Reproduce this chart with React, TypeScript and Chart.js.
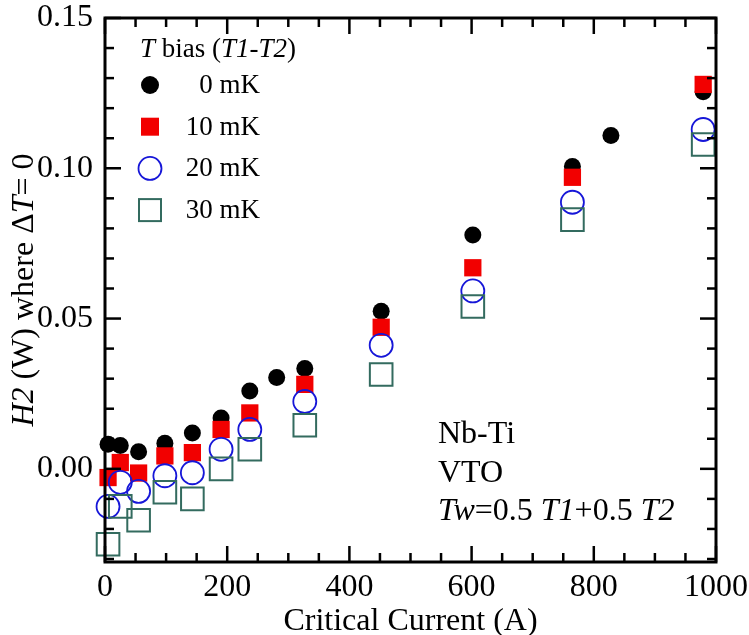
import { useEffect, useRef } from "react";
import { Chart, registerables } from "chart.js";

Chart.register(...registerables);

// Critical current (A) at which each bias was measured
const currents0 = [5, 25, 55, 98, 143, 190, 237, 281, 327, 452, 602, 765, 828, 979];
const currents = [5, 25, 55, 98, 143, 190, 237, 327, 452, 602, 765, 979];

// H2 (W) where ΔT = 0
const bias0mK = [0.0082, 0.0078, 0.0057, 0.0085, 0.0119, 0.0169, 0.0259, 0.0304, 0.0334, 0.0524, 0.0778, 0.1006, 0.1109, 0.1255];
const bias10mK = [-0.0029, 0.0021, -0.0014, 0.0043, 0.0054, 0.0131, 0.0186, 0.0281, 0.0471, 0.0669, 0.097, 0.1279];
const bias20mK = [-0.0125, -0.0045, -0.0075, -0.0023, -0.0013, 0.0065, 0.0131, 0.0224, 0.0411, 0.0592, 0.0887, 0.1129];
const bias30mK = [-0.0251, -0.0125, -0.0171, -0.0078, -0.01, 0.0, 0.0065, 0.0145, 0.0314, 0.054, 0.0829, 0.1079];

const xTickValues = [0, 200, 400, 600, 800, 1000];
const yTickValues = [0, 0.05, 0.1, 0.15];
const legendLabels = ["0 mK", "10 mK", "20 mK", "30 mK"];
const noteLines = ["Nb-Ti", "VTO"];

const SERIF = "'Liberation Serif', 'Times New Roman', serif";
const RED = "#f20000";
const BLUE = "#1616d8";
const GREEN = "#336b5f";

type Seg = { t: string; it?: boolean };

function drawSegs(ctx: CanvasRenderingContext2D, segs: Seg[], x: number, y: number, size: number, align: "left" | "center") {
  const fontOf = (s: Seg) => `${s.it ? "italic " : ""}${size}px ${SERIF}`;
  let total = 0;
  for (const s of segs) {
    ctx.font = fontOf(s);
    total += ctx.measureText(s.t).width;
  }
  let cx = align === "center" ? x - total / 2 : x;
  ctx.textAlign = "left";
  for (const s of segs) {
    ctx.font = fontOf(s);
    ctx.fillText(s.t, cx, y);
    cx += ctx.measureText(s.t).width;
  }
}

function marker(ctx: CanvasRenderingContext2D, kind: number, x: number, y: number) {
  ctx.save();
  if (kind === 0) {
    ctx.fillStyle = "#000";
    ctx.beginPath();
    ctx.arc(x, y, 9, 0, Math.PI * 2);
    ctx.fill();
  } else if (kind === 1) {
    ctx.fillStyle = RED;
    ctx.fillRect(x - 9, y - 9, 18, 18);
  } else if (kind === 2) {
    ctx.strokeStyle = BLUE;
    ctx.lineWidth = 1.8;
    ctx.beginPath();
    ctx.arc(x, y, 11.5, 0, Math.PI * 2);
    ctx.stroke();
  } else {
    ctx.strokeStyle = GREEN;
    ctx.lineWidth = 2;
    ctx.strokeRect(x - 11, y - 11, 22, 22);
  }
  ctx.restore();
}

const decor = {
  id: "decor",
  afterDatasetsDraw(chart: any) {
    const { ctx, chartArea: a, scales } = chart;
    const xs = scales.x;
    const ys = scales.y;
    ctx.save();
    ctx.strokeStyle = "#000";
    ctx.lineWidth = 2.5;
    const seg = (x1: number, y1: number, x2: number, y2: number) => {
      ctx.beginPath();
      ctx.moveTo(x1, y1);
      ctx.lineTo(x2, y2);
      ctx.stroke();
    };
    for (let v = 0; v <= 1000; v += 50) {
      const px = xs.getPixelForValue(v);
      const len = v % 200 === 0 ? 16 : 9;
      seg(px, a.bottom, px, a.bottom - len);
      seg(px, a.top, px, a.top + len);
    }
    for (let i = -3; i <= 15; i++) {
      const py = ys.getPixelForValue(i / 100);
      const len = i % 5 === 0 ? 16 : 9;
      seg(a.left, py, a.left + len, py);
      seg(a.right, py, a.right - len, py);
    }
    ctx.lineWidth = 3;
    ctx.strokeRect(a.left, a.top, a.right - a.left, a.bottom - a.top);

    ctx.fillStyle = "#000";
    ctx.textBaseline = "alphabetic";
    // x title
    drawSegs(ctx, [{ t: "Critical Current (A)" }], (a.left + a.right) / 2, 630, 32, "center");
    // y title
    ctx.save();
    ctx.translate(33, (a.top + a.bottom) / 2);
    ctx.rotate(-Math.PI / 2);
    drawSegs(ctx, [{ t: "H2", it: true }, { t: " (W) where \u0394" }, { t: "T", it: true }, { t: "= 0" }], 0, 0, 32, "center");
    ctx.restore();

    // legend
    ctx.textBaseline = "middle";
    drawSegs(ctx, [{ t: "T", it: true }, { t: " bias (" }, { t: "T1", it: true }, { t: "-" }, { t: "T2", it: true }, { t: ")" }], 140, 50, 27, "left");
    legendLabels.forEach((lab, i) => {
      const yy = 85 + i * 41.7;
      marker(ctx, i, 150, yy);
      ctx.font = `27px ${SERIF}`;
      ctx.textAlign = "right";
      ctx.fillText(lab, 260, yy + 1);
    });

    // annotation
    ctx.textBaseline = "alphabetic";
    noteLines.forEach((t, i) => drawSegs(ctx, [{ t }], 438, 443 + i * 38.5, 32, "left"));
    drawSegs(ctx, [{ t: "Tw", it: true }, { t: "=0.5 " }, { t: "T1", it: true }, { t: "+0.5 " }, { t: "T2", it: true }], 438, 520, 32, "left");
    ctx.restore();
  },
};

export default function App() {
  const ref = useRef<HTMLCanvasElement | null>(null);
  useEffect(() => {
    if (!ref.current) return;
    const pts = (xs: number[], ys: number[]) => xs.map((x, i) => ({ x, y: ys[i] }));
    const chart = new Chart(ref.current, {
      type: "scatter",
      data: {
        datasets: [
          { label: "0 mK", data: pts(currents0, bias0mK), pointStyle: "circle", pointRadius: 8.5, backgroundColor: "#000", borderColor: "#000", borderWidth: 0, order: 4, clip: false },
          { label: "10 mK", data: pts(currents, bias10mK), pointStyle: "rect", pointRadius: 12.2, backgroundColor: RED, borderColor: RED, borderWidth: 0, order: 3, clip: false },
          { label: "20 mK", data: pts(currents, bias20mK), pointStyle: "circle", pointRadius: 11.5, backgroundColor: "rgba(0,0,0,0)", borderColor: BLUE, borderWidth: 1.8, order: 2, clip: false },
          { label: "30 mK", data: pts(currents, bias30mK), pointStyle: "rect", pointRadius: 16, backgroundColor: "rgba(0,0,0,0)", borderColor: GREEN, borderWidth: 2, order: 1, clip: false },
        ] as any,
      },
      options: {
        animation: false,
        responsive: false,
        events: [],
        layout: { padding: { left: 0, top: 13, right: 33, bottom: 0 } },
        plugins: { legend: { display: false }, tooltip: { enabled: false } },
        scales: {
          x: {
            type: "linear",
            min: 0,
            max: 1000,
            grid: { display: false, drawTicks: false },
            border: { display: false },
            afterBuildTicks: (s: any) => {
              s.ticks = xTickValues.map((value) => ({ value }));
            },
            afterFit: (s: any) => {
              s.height = 73;
              s.paddingLeft = 0;
              s.paddingRight = 0;
            },
            ticks: { color: "#000", padding: 6, maxRotation: 0, font: { family: SERIF, size: 32 }, callback: (v: any) => String(v) },
          },
          y: {
            type: "linear",
            min: -0.031,
            max: 0.15,
            grid: { display: false, drawTicks: false },
            border: { display: false },
            afterBuildTicks: (s: any) => {
              s.ticks = yTickValues.map((value) => ({ value }));
            },
            afterFit: (s: any) => {
              s.width = 105;
              s.paddingTop = 0;
              s.paddingBottom = 0;
            },
            ticks: { color: "#000", padding: 12, font: { family: SERIF, size: 32 }, callback: (v: any) => Number(v).toFixed(2) },
          },
        },
      },
      plugins: [decor],
    });
    return () => chart.destroy();
  }, []);
  return (
    <div style={{ position: "absolute", left: 0, top: 0, width: 749, height: 635, background: "#fff" }}>
      <canvas ref={ref} width={749} height={635} style={{ display: "block" }} />
    </div>
  );
}
